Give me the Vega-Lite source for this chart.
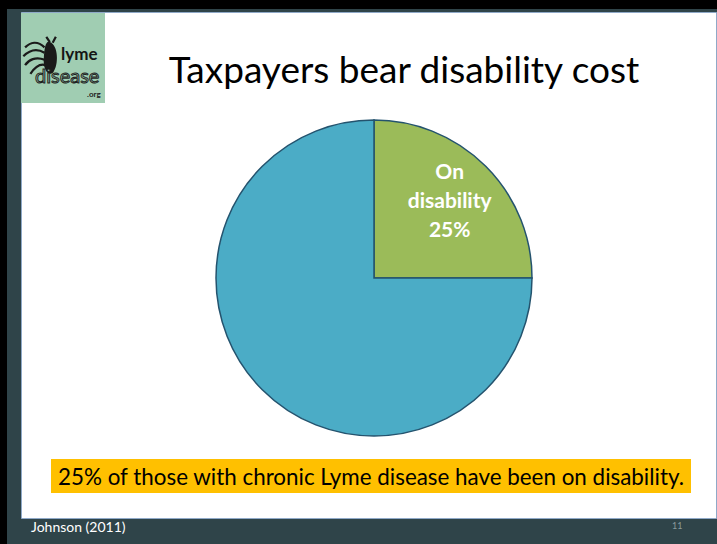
{
  "$schema": "https://vega.github.io/schema/vega-lite/v6.json",
  "autosize": "none",
  "width": 695,
  "height": 506,
  "padding": {"left": 21, "top": 12, "right": 1, "bottom": 26},
  "background": "#2F4449",
  "config": {"view": {"fill": "white", "stroke": "#8FA9C8", "strokeWidth": 1}},
  "layer": [
    {
      "data": {"values": [{"band": "top"}]},
      "mark": {"type": "rect", "color": "black"},
      "encoding": {"x": {"value": -21}, "x2": {"value": 696}, "y": {"value": -12}, "y2": {"value": -3}}
    },
    {
      "data": {"values": [{"band": "left"}]},
      "mark": {"type": "rect", "color": "black"},
      "encoding": {"x": {"value": -21}, "x2": {"value": -14}, "y": {"value": -12}, "y2": {"value": 532}}
    },
    {
      "data": {"values": [{"logo": "lyme disease .org"}]},
      "mark": {"type": "rect", "color": "#A0CDB2"},
      "encoding": {"x": {"value": 0}, "x2": {"value": 84}, "y": {"value": 1}, "y2": {"value": 91}}
    },
    {
      "data": {"values": [{"part": "tick legs"}]},
      "mark": {"type": "point", "filled": false, "stroke": "#1A1A1A", "strokeWidth": 2.2, "opacity": 1, "shape": "M0.1,-0.3 C-0.1,-0.5 -0.3,-0.45 -0.45,-0.3 M0.1,-0.15 C-0.15,-0.3 -0.35,-0.2 -0.5,-0.05 M0.1,0.05 C-0.15,-0.05 -0.35,0.05 -0.45,0.2 M0.12,0.2 C-0.05,0.15 -0.2,0.3 -0.3,0.45 M0.25,-0.45 L0.15,-0.6 M0.33,-0.43 L0.42,-0.6", "size": 5000},
      "encoding": {"x": {"value": 20}, "y": {"value": 46}}
    },
    {
      "data": {"values": [{"part": "tick body"}]},
      "mark": {"type": "point", "filled": true, "fill": "#1A1A1A", "opacity": 1, "shape": "M0.25,-0.45 C0.5,-0.35 0.5,0.2 0.35,0.4 C0.2,0.55 0.05,0.3 0.08,0 C0.1,-0.25 0.12,-0.5 0.25,-0.45 Z", "size": 5000},
      "encoding": {"x": {"value": 20}, "y": {"value": 46}}
    },
    {
      "data": {"values": [{"t": "lyme"}]},
      "mark": {"type": "text", "font": "Lato", "fontWeight": "bold", "fontSize": 17, "color": "#151515", "align": "left", "baseline": "alphabetic"},
      "encoding": {"text": {"field": "t"}, "x": {"value": 40}, "y": {"value": 48}}
    },
    {
      "data": {"values": [{"t": "disease"}]},
      "mark": {"type": "text", "font": "Lato", "fontSize": 20, "fill": "#A0CDB2", "stroke": "#1E1E1E", "strokeWidth": 1, "align": "left", "baseline": "alphabetic"},
      "encoding": {"text": {"field": "t"}, "x": {"value": 14}, "y": {"value": 71}}
    },
    {
      "data": {"values": [{"t": ".org"}]},
      "mark": {"type": "text", "font": "Lato", "fontWeight": "bold", "fontSize": 8, "color": "#222222", "align": "left", "baseline": "alphabetic"},
      "encoding": {"text": {"field": "t"}, "x": {"value": 66}, "y": {"value": 85}}
    },
    {
      "data": {"values": [{"t": "Taxpayers bear disability cost"}]},
      "mark": {"type": "text", "font": "Lato", "fontSize": 37, "color": "#000000", "align": "center", "baseline": "alphabetic"},
      "encoding": {"text": {"field": "t"}, "x": {"value": 383}, "y": {"value": 71}}
    },
    {
      "data": {"values": [
        {"category": "On disability", "value": 25, "label": "On\ndisability\n25%"},
        {"category": "Not on disability", "value": 75, "label": ""}
      ]},
      "layer": [
        {
          "mark": {"type": "arc", "outerRadius": 158, "stroke": "#24536E", "strokeWidth": 1.5},
          "encoding": {
            "theta": {"field": "value", "type": "quantitative", "stack": true},
            "order": {"field": "category", "sort": "descending"},
            "color": {"field": "category", "type": "nominal", "scale": {"domain": ["On disability", "Not on disability"], "range": ["#9BBB59", "#4BACC6"]}, "legend": null},
            "x": {"value": 353},
            "y": {"value": 266}
          }
        },
        {
          "mark": {"type": "text", "radius": 107, "dy": -29, "font": "Lato", "fontWeight": "bold", "fontSize": 21, "lineHeight": 29, "lineBreak": "\n", "color": "white", "align": "center", "baseline": "middle"},
          "encoding": {
            "theta": {"field": "value", "type": "quantitative", "stack": true},
            "order": {"field": "category", "sort": "descending"},
            "text": {"field": "label"},
            "x": {"value": 353},
            "y": {"value": 266}
          }
        }
      ]
    },
    {
      "data": {"values": [{"t": "caption box"}]},
      "mark": {"type": "rect", "color": "#FFC000"},
      "encoding": {"x": {"value": 30}, "x2": {"value": 670}, "y": {"value": 447}, "y2": {"value": 481}}
    },
    {
      "data": {"values": [{"t": "25% of those with chronic Lyme disease have been on disability."}]},
      "mark": {"type": "text", "font": "Lato", "fontSize": 22.4, "color": "#000000", "align": "left", "baseline": "alphabetic"},
      "encoding": {"text": {"field": "t"}, "x": {"value": 37}, "y": {"value": 473}}
    },
    {
      "data": {"values": [{"t": "Johnson (2011)"}]},
      "mark": {"type": "text", "font": "Lato", "fontSize": 14, "color": "#FFFFFF", "align": "left", "baseline": "alphabetic"},
      "encoding": {"text": {"field": "t"}, "x": {"value": 10}, "y": {"value": 520}}
    },
    {
      "data": {"values": [{"t": "11"}]},
      "mark": {"type": "text", "font": "Lato", "fontSize": 9, "color": "#8A9A9C", "align": "left", "baseline": "middle"},
      "encoding": {"text": {"field": "t"}, "x": {"value": 651}, "y": {"value": 514}}
    }
  ]
}
